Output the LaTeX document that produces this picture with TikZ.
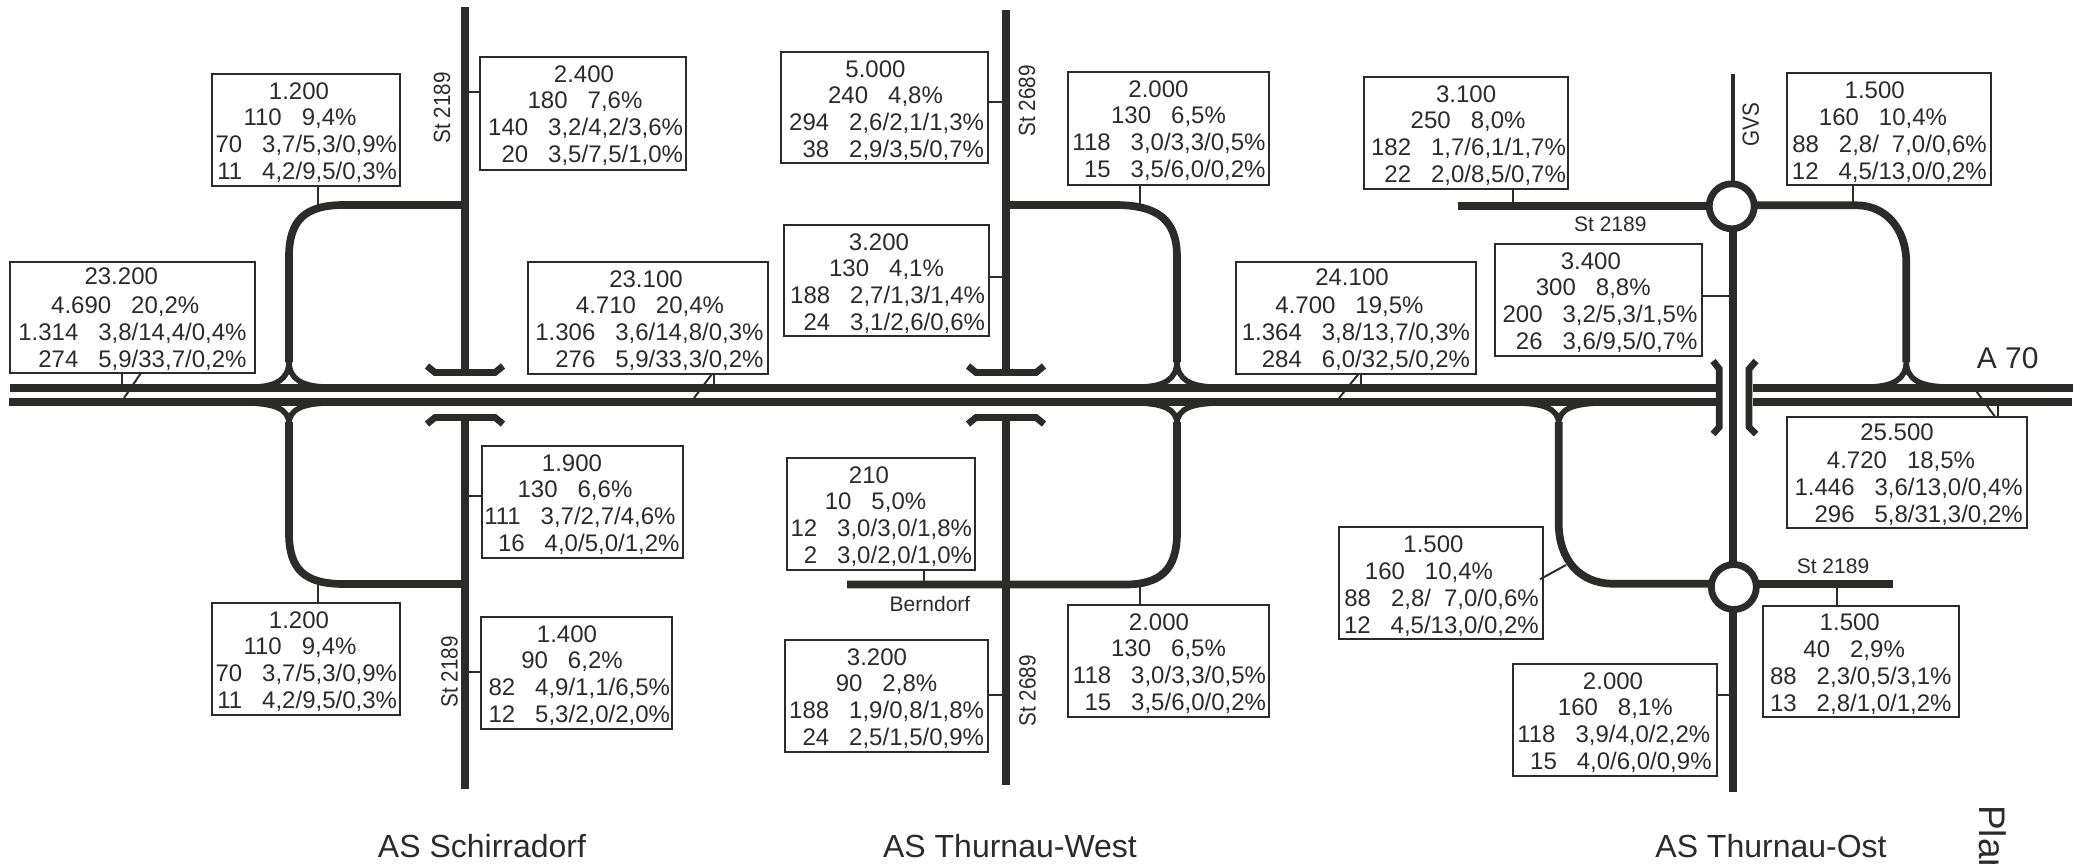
\documentclass[tikz,border=0pt]{standalone}
\usepackage{fontspec}
\setmainfont{Liberation Sans}
\newfontfamily\rotfont[FakeStretch=0.88]{Liberation Sans}
\definecolor{ink}{HTML}{2B2B2A}
\def\g{\kern20pt }
\def\up#1#2{\smash{\raisebox{#1pt}{#2}}}
\def\bxparse#1/#2/#3/#4/#5/#6/#7\relax{\def\bL{#1}\def\bT{#2}\def\bR{#3}\def\bB{#4}\def\bM{#5}\def\bA{#6}\def\bC{#7}}
\newcommand\bx[6]{\bxparse#2\relax
  \pgfmathsetmacro\bW{\bR-\bL}\pgfmathsetmacro\bH{\bB-\bT}
  \node[infobox,minimum width=\bW pt,minimum height=\bH pt] (#1) at (\bL,\bT) {\vbox to \bH pt{\baselineskip=26.9pt\lineskiplimit=-100pt\kern8pt
    \hbox to \bW pt{\hfil\kern\bA pt\hbox{\rule{0pt}{17pt}#3}\kern-\bA pt\hfil}
    \hbox to \bW pt{\hfil\kern\bC pt\hbox{\rule{0pt}{17pt}#4}\kern-\bC pt\hfil}
    \hbox to \bW pt{\hfil\rule{0pt}{17pt}#5\kern\bM pt}
    \hbox to \bW pt{\hfil\rule{0pt}{17pt}#6\kern\bM pt}
    \vss}};}
\tikzset{
  x=1pt,y=-1pt,
  infobox/.style={draw=ink,line width=2pt,anchor=north west,inner sep=0pt,outer sep=0pt,text=ink,font=\fontsize{24}{27}\selectfont},
  road/.style={draw=ink,line width=7.7pt,line cap=butt,line join=miter},
  ramp/.style={draw=ink,line width=5.5pt,line cap=butt},
  motorway/.style={draw=ink,line width=8pt},
  bridge/.style={draw=ink,line width=6.7pt,line join=miter,miter limit=10},
  tickline/.style={draw=ink,line width=2pt},
  smalllabel/.style={text=ink,inner sep=0pt,anchor=base,font=\fontsize{21}{24}\selectfont},
  rotlabel/.style={text=ink,inner sep=0pt,rotate=90,font=\rotfont\fontsize{23.5}{28}\selectfont},
  title/.style={text=ink,inner sep=0pt,anchor=base,font=\fontsize{32}{36}\selectfont},
  roundabout/.style={circle,draw=ink,fill=white,line width=6.8pt,minimum size=45pt,inner sep=0pt}
}
\newcommand\forktop[3]{\draw[ramp] (#1-#2,387) .. controls (#1-14,386) and (#1,380) .. (#1,361) .. controls (#1,380) and (#1+14,386) .. (#1+#3,387);}
\newcommand\forkbot[3]{\draw[ramp] (#1-#2,403) .. controls (#1-16,404) and (#1,408) .. (#1,424) .. controls (#1,408) and (#1+16,404) .. (#1+#3,403);}
\begin{document}
\begin{tikzpicture}
\useasboundingbox (0,0) rectangle (2078,863);
\clip (0,0) rectangle (2078,863);
% motorway
\draw[motorway] (10,388) -- (1716,388);
\draw[motorway] (9,402) -- (1716,402);
\draw[motorway] (1752.7,388) -- (2072.7,388);
\draw[motorway] (1752.7,402) -- (2072,402);
% side roads
\draw[road] (465,7) -- (465,372);
\draw[road] (465,417) -- (465,789);
\draw[road] (1006,10) -- (1006,372);
\draw[road] (1006,417) -- (1006,785);
\draw[road] (1733,206) -- (1733,791.7);
\draw[draw=ink,line width=4pt] (1733,74) -- (1733,206);
% bridges
\foreach \c in {465,1006}{
  \draw[bridge] (\c-38,366) -- (\c-30,372.5) -- (\c+30,372.5) -- (\c+38,366);
  \draw[bridge] (\c-38,424) -- (\c-30,417.5) -- (\c+30,417.5) -- (\c+38,424);
}
\draw[bridge] (1713,361) -- (1719.3,369) -- (1719.3,427) -- (1713,434);
\draw[bridge] (1756,361) -- (1749,369) -- (1749,427) -- (1756,434);
% ramps
\draw[road] (465,205) -- (344,205) .. controls (305,205) and (289,220) .. (289,257) -- (289,362);
\forktop{289}{33}{36}
\draw[road] (289,422) -- (289,533) .. controls (289,570) and (305,584) .. (344,584) -- (465,584);
\forkbot{289}{39}{37}
\draw[road] (1006,205) -- (1115,205) .. controls (1158,205) and (1177,220) .. (1177,257) -- (1177,362);
\forktop{1177}{35}{35}
\draw[road] (1177,422) -- (1177,533) .. controls (1177,570) and (1160,584.5) .. (1125,584.5) -- (847,584.5);
\forkbot{1177}{37}{39}
\draw[road] (1733,205.3) -- (1856.7,205.3) .. controls (1885,205.3) and (1906.3,228) .. (1906.3,263) -- (1906.3,362);
\forktop{1906.3}{36}{39}
\draw[road] (1558.7,422) -- (1558.7,523) .. controls (1558.7,560) and (1580,583.7) .. (1613,583.7) -- (1733,583.7);
\forkbot{1558.7}{39}{40}
\draw[road] (1457.7,206) -- (1733,206);
\draw[road] (1733,584) -- (1893,584);
\node[roundabout] (rbN) at (1731.7,206.3) {};
\node[roundabout] (rbS) at (1733.8,587) {};
% boxes
\bx{tl}{212/74/400/186/3/-7/-6}{1.200}{110\g 9,4\%}{70\g 3,7/5,3/0,9\%}{11\g 4,2/9,5/0,3\%}
\bx{sa}{480/57/686/170/3/1/2}{2.400}{180\g 7,6\%}{140\g 3,2/4,2/3,6\%}{20\g 3,5/7,5/1,0\%}
\bx{ma}{10/262/254.5/373/8/-11/-7}{\up{2.5}{23.200}}{4.690\g 20,2\%}{1.314\g 3,8/14,4/0,4\%}{274\g 5,9/33,7/0,2\%}
\bx{mb}{528/262/768/374/4.5/-2/2}{23.100}{4.710\g 20,4\%}{1.306\g 3,6/14,8/0,3\%}{276\g 5,9/33,3/0,2\%}
\bx{wa}{781/52/988/163/4/-9/1}{5.000}{240\g 4,8\%}{294\g 2,6/2,1/1,3\%}{38\g 2,9/3,5/0,7\%}
\bx{wb}{784/225/989/336/4/-7.5/0}{3.200}{130\g 4,1\%}{188\g 2,7/1,3/1,4\%}{24\g 3,1/2,6/0,6\%}
\bx{wc}{1068/72/1269/185/3.5/-10/0}{2.000}{130\g 6,5\%}{118\g 3,0/3,3/0,5\%}{15\g 3,5/6,0/0,2\%}
\bx{ea}{1363.8/77/1568.4/189/2.5/0/2}{3.100}{250\g 8,0\%}{182\g 1,7/6,1/1,7\%}{22\g 2,0/8,5/0,7\%}
\bx{eb}{1786.7/73.3/1990.7/185/4/-14/-5.7}{1.500}{160\g 10,4\%}{88\g 2,8/\kern13pt 7,0/0,6\%}{12\g 4,5/13,0/0,2\%}
\bx{ec}{1495.3/244/1702.4/355.7/5/-8/-5.6}{3.400}{300\g 8,8\%}{200\g 3,2/5,3/1,5\%}{26\g 3,6/9,5/0,7\%}
\bx{mc}{1236/262/1476/374/6/-4/-6.5}{\up{1.5}{24.100}}{4.700\g 19,5\%}{1.364\g 3,8/13,7/0,3\%}{284\g 6,0/32,5/0,2\%}
\bx{md}{1786.7/416.7/2026.7/528.3/4/-9.7/-5.7}{\up{1.5}{25.500}}{4.720\g 18,5\%}{1.446\g 3,6/13,0/0,4\%}{296\g 5,8/31,3/0,2\%}
\bx{sb}{482/446/683/558/3.5/-10.5/-7.5}{1.900}{130\g 6,6\%}{111\g 3,7/2,7/4,6\%\kern4pt}{16\g 4,0/5,0/1,2\%}
\bx{bl}{212/603/400/715/3/-7/-6}{1.200}{110\g 9,4\%}{70\g 3,7/5,3/0,9\%}{11\g 4,2/9,5/0,3\%}
\bx{sc}{481/617/672/729/2/-9.5/-4.5}{1.400}{90\g 6,2\%}{82\g 4,9/1,1/6,5\%}{12\g 5,3/2,0/2,0\%}
\bx{wd}{787/458/975/570/3/-12/-5.5}{210}{10\g 5,0\%}{12\g 3,0/3,0/1,8\%}{2\g 3,0/2,0/1,0\%}
\bx{we}{785/640/988/752/4/-9.5/0}{3.200}{90\g 2,8\%}{188\g 1,9/0,8/1,8\%}{24\g 2,5/1,5/0,9\%}
\bx{wf}{1068/605/1269/716.5/3/-9.5/0}{2.000}{130\g 6,5\%}{118\g 3,0/3,3/0,5\%}{15\g 3,5/6,0/0,2\%}
\bx{ed}{1338.6/527.3/1543.3/638.7/4.5/-7.5/-12}{1.500}{160\g 10,4\%}{88\g 2,8/\kern13pt 7,0/0,6\%}{12\g 4,5/13,0/0,2\%}
\bx{ee}{1513.3/664/1717.3/775.7/5.7/-2.3/0}{2.000}{160\g 8,1\%}{118\g 3,9/4,0/2,2\%\kern1.3pt}{15\g 4,0/6,0/0,9\%}
\bx{ef}{1763.3/605.7/1959/717.3/7.5/-11.4/-7}{1.500}{40\g 2,9\%}{88\g 2,3/0,5/3,1\%}{13\g 2,8/1,0/1,2\%}
% connectors
\coordinate (c1) at (318,205); \draw[tickline] (c1) -- (c1 |- tl.south);
\coordinate (c2) at (469,92); \draw[tickline] (c2) -- (c2 -| sa.west);
\coordinate (c3) at (122,384); \draw[tickline] (c3) -- (c3 |- ma.south);
\coordinate (c4) at (124,398); \coordinate (c4a) at (141,373); \draw[tickline] (c4) -- (c4a);
\coordinate (c5) at (714,384); \draw[tickline] (c5) -- (c5 |- mb.south);
\coordinate (c6) at (694,398); \coordinate (c6a) at (712,374); \draw[tickline] (c6) -- (c6a);
\coordinate (c7) at (1002,102); \draw[tickline] (c7) -- (c7 -| wa.east);
\coordinate (c8) at (1002,277); \draw[tickline] (c8) -- (c8 -| wb.east);
\coordinate (c9) at (1140,205); \draw[tickline] (c9) -- (c9 |- wc.south);
\coordinate (c10) at (1513.2,206); \draw[tickline] (c10) -- (c10 |- ea.south);
\coordinate (c11) at (1853.3,205); \draw[tickline] (c11) -- (c11 |- eb.south);
\coordinate (c12) at (1730,296); \draw[tickline] (c12) -- (c12 -| ec.east);
\coordinate (c13) at (1360.9,384); \draw[tickline] (c13) -- (c13 |- mc.south);
\coordinate (c14) at (1339,398); \coordinate (c14a) at (1358.5,374); \draw[tickline] (c14) -- (c14a);
\coordinate (c15) at (1998,406); \draw[tickline] (c15) -- (c15 |- md.north);
\coordinate (c16) at (1976.7,391.7); \coordinate (c16a) at (1995,416.7); \draw[tickline] (c16) -- (c16a);
\coordinate (c17) at (469,496); \draw[tickline] (c17) -- (c17 -| sb.west);
\coordinate (c18) at (318,584); \draw[tickline] (c18) -- (c18 |- bl.north);
\coordinate (c19) at (469,672); \draw[tickline] (c19) -- (c19 -| sc.west);
\coordinate (c20) at (924,584.5); \draw[tickline] (c20) -- (c20 |- wd.south);
\coordinate (c21) at (1002,695); \draw[tickline] (c21) -- (c21 -| we.east);
\coordinate (c22) at (1140,584.5); \draw[tickline] (c22) -- (c22 |- wf.north);
\coordinate (c23) at (1566,565); \coordinate (c23a) at (1540,579.3); \draw[tickline] (c23) -- (c23a);
\coordinate (c24) at (1730,695); \draw[tickline] (c24) -- (c24 -| ee.east);
\coordinate (c25) at (1836.7,584); \draw[tickline] (c25) -- (c25 |- ef.north);
% labels
\node[rotlabel] (l1) at (442,108) {St 2189};
\node[rotlabel] (l2) at (449.5,672) {St 2189};
\node[rotlabel] (l3) at (1027,101) {St 2689};
\node[rotlabel] (l4) at (1027.5,691) {St 2689};
\node[rotlabel] (l5) at (1750.7,125) {GVS};
\node[smalllabel] (l6) at (1610.3,231.7) {St 2189};
\node[smalllabel] (l7) at (1833,573.3) {St 2189};
\node[smalllabel] (l8) at (930,611.7) {Berndorf};
\node[title,anchor=base west,font=\fontsize{30}{34}\selectfont] (l9) at (1976.7,368) {A 70};
\node[title] (l10) at (482,857) {AS Schirradorf};
\node[title] (l11) at (1010,857) {AS Thurnau-West};
\node[title] (l12) at (1771,857) {AS Thurnau-Ost};
\node[text=ink,inner sep=0pt,rotate=-90,anchor=base west,font=\fontsize{37}{40}\selectfont] (l13) at (1979,805) {Plan};
\end{tikzpicture}
\end{document}
